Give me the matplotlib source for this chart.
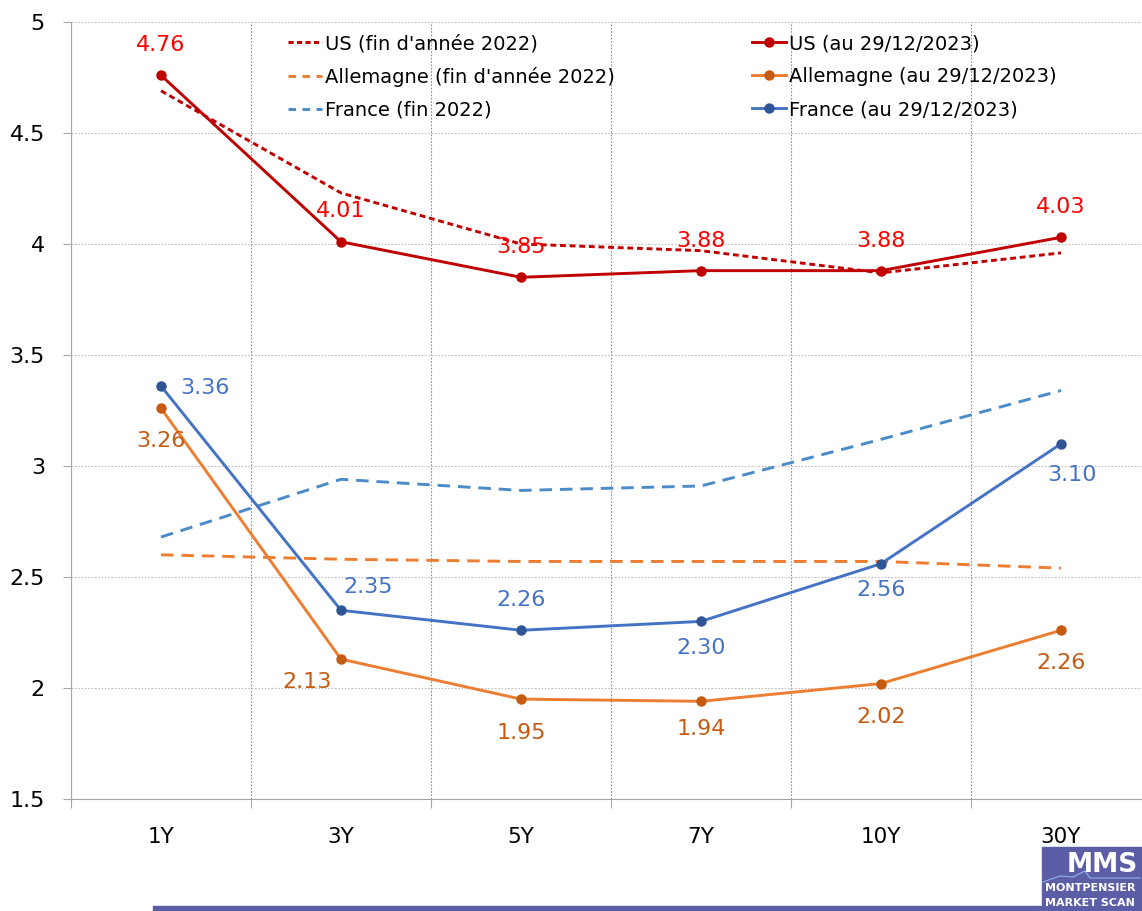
import matplotlib
matplotlib.use("Agg")
import matplotlib.pyplot as plt
from matplotlib.lines import Line2D
from matplotlib.patches import Rectangle
import numpy as np

plt.rcParams['font.family'] = ['DejaVu Sans']

# data
maturities = ['1Y', '3Y', '5Y', '7Y', '10Y', '30Y']
us_2022 = [4.69, 4.23, 4.00, 3.97, 3.87, 3.96]
de_2022 = [2.60, 2.58, 2.57, 2.57, 2.57, 2.54]
fr_2022 = [2.68, 2.94, 2.89, 2.91, 3.12, 3.34]
us_2023 = [4.76, 4.01, 3.85, 3.88, 3.88, 4.03]
de_2023 = [3.26, 2.13, 1.95, 1.94, 2.02, 2.26]
fr_2023 = [3.36, 2.35, 2.26, 2.30, 2.56, 3.10]

# label offsets in pixels (dx, dy)
us_off = [(0, 30), (0, 31), (0, 30), (0, 30), (0, 30), (0, 30)]
de_off = [(0, -33), (-34, -23), (0, -34), (0, -28), (0, -33), (0, -33)]
fr_off = [(44, -2), (27, 23), (0, 30), (0, -27), (0, -26), (11, -31)]

W, H = 1142, 911
fig = plt.figure(figsize=(W / 100, H / 100), dpi=100)
ax = fig.add_axes([71 / W, 1 - 799 / H, 1080 / W, 777 / H])

x = np.arange(len(maturities))
lw = 2.1
ms = 6.5
PX = 72 / 100  # px -> pt

ax.plot(x, us_2022, color='#C00000', lw=lw, dashes=(2.0, 1.3))
ax.plot(x, de_2022, color='#ED7D31', lw=lw, dashes=(4.3, 2.7))
ax.plot(x, fr_2022, color='#4A8BC8', lw=lw, dashes=(4.3, 2.7))
ax.plot(x, us_2023, color='#C00000', lw=lw, marker='o', ms=ms)
ax.plot(x, de_2023, color='#ED7D31', lw=lw, marker='o', ms=ms, mfc='#C55A11', mec='#C55A11')
ax.plot(x, fr_2023, color='#4472C4', lw=lw, marker='o', ms=ms, mfc='#2F5597', mec='#2F5597')

for vals, offs, col in [(us_2023, us_off, '#FF0000'),
                        (de_2023, de_off, '#C55A11'),
                        (fr_2023, fr_off, '#4472C4')]:
    for i, v in enumerate(vals):
        ax.annotate(f'{v:.2f}', (x[i], v), xytext=(offs[i][0] * PX, offs[i][1] * PX),
                    textcoords='offset points', ha='center', va='center',
                    color=col, fontsize=16)

ax.set_xlim(-0.5, len(maturities) - 0.5)
ax.set_ylim(1.5, 5)
ax.set_yticks(np.arange(1.5, 5.01, 0.5))
ax.set_yticklabels(['1.5', '2', '2.5', '3', '3.5', '4', '4.5', '5'])
ax.set_xticks(x)
ax.set_xticklabels(maturities)
ax.set_xticks(np.arange(-0.5, len(maturities), 1), minor=True)

ax.tick_params(axis='x', which='major', length=0, pad=20, labelsize=15.5)
ax.tick_params(axis='x', which='minor', length=9 * PX, color='#A6A6A6', width=0.8)
ax.tick_params(axis='y', length=8 * PX, color='#A6A6A6', width=0.8, pad=13, labelsize=16)

ax.grid(axis='y', which='major', color='#BFBFBF', ls=(0, (1.5, 1.5)), lw=0.8)
ax.grid(axis='x', which='minor', color='#8C8C8C', ls=(0, (1.5, 1.5)), lw=0.8)
ax.set_axisbelow(True)
for s in ['top', 'right']:
    ax.spines[s].set_visible(False)
for s in ['left', 'bottom']:
    ax.spines[s].set_color('#A6A6A6')
    ax.spines[s].set_linewidth(0.8)

# legend, two columns
h1 = [Line2D([], [], color='#C00000', lw=lw, dashes=(1.8, 1.1)),
      Line2D([], [], color='#ED7D31', lw=lw, dashes=(2.6, 2.2)),
      Line2D([], [], color='#4A8BC8', lw=lw, dashes=(2.6, 2.2))]
l1 = ['US (fin d\'année 2022)', 'Allemagne (fin d\'année 2022)', 'France (fin 2022)']
h2 = [Line2D([], [], color='#C00000', lw=lw, marker='o', ms=ms),
      Line2D([], [], color='#ED7D31', lw=lw, marker='o', ms=ms, mfc='#C55A11', mec='#C55A11'),
      Line2D([], [], color='#4472C4', lw=lw, marker='o', ms=ms, mfc='#2F5597', mec='#2F5597')]
l2 = ['US (au 29/12/2023)', 'Allemagne (au 29/12/2023)', 'France (au 29/12/2023)']
leg_kw = dict(loc='upper left', frameon=False, fontsize=14, handlelength=1.75,
              handletextpad=0.15, labelspacing=0.72, borderpad=0, borderaxespad=0)
fig.legend(h1, l1, bbox_to_anchor=(288 / W, 1 - 34 / H), **leg_kw)
fig.legend(h2, l2, bbox_to_anchor=(752 / W, 1 - 34 / H), **leg_kw)

# bottom decoration and logo
purple = '#5B5EA6'
fig.patches.append(Rectangle((153 / W, 0), (1042 - 153) / W, 5 / H,
                             transform=fig.transFigure, color=purple, zorder=0))
fig.patches.append(Rectangle((1042 / W, 0), 100 / W, 64 / H,
                             transform=fig.transFigure, color=purple, zorder=0))
fig.text(1138 / W, 1 - 865 / H, 'MMS', color='white', fontsize=19, fontweight='bold',
         ha='right', va='center')
fig.text(1045 / W, 1 - 888 / H, 'MONTPENSIER', color='white', fontsize=8,
         fontweight='bold', ha='left', va='center')
fig.text(1045 / W, 1 - 903 / H, 'MARKET SCAN', color='white', fontsize=8,
         fontweight='bold', ha='left', va='center')
fig.add_artist(Line2D([1043 / W, 1060 / W, 1073 / W, 1085 / W, 1090 / W, 1140 / W],
                      [1 - 882 / H, 1 - 876 / H, 1 - 877 / H, 1 - 871 / H, 1 - 878 / H, 1 - 878 / H],
                      transform=fig.transFigure, color='#8FB3E6', lw=0.8))

fig.savefig('out.png', dpi=100)
